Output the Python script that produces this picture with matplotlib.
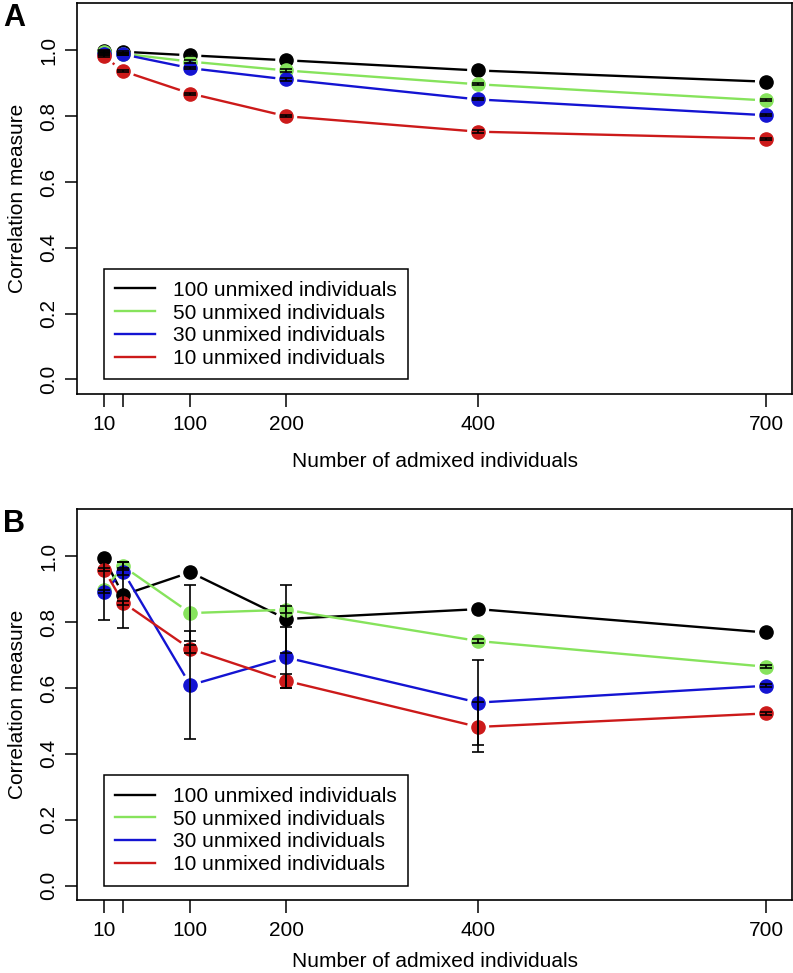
import numpy as np
import matplotlib
matplotlib.use("Agg")
import matplotlib.pyplot as plt

plt.rcParams['font.family'] = ['Liberation Sans', 'DejaVu Sans']

# x positions: number of admixed individuals
n_admixed = [10, 30, 100, 200, 400, 700]
x_ticks = [10, 30, 100, 200, 400, 700]
x_ticklabels = ['10', '', '100', '200', '400', '700']

series_labels = ['100 unmixed individuals', '50 unmixed individuals',
                 '30 unmixed individuals', '10 unmixed individuals']
series_colors = ['#000000', '#86E35C', '#1414D2', '#CC1A1A']

# Panel A
a_100 = [0.998, 0.996, 0.985, 0.970, 0.939, 0.905]
a_50 = [0.995, 0.990, 0.966, 0.939, 0.897, 0.848]
a_30 = [0.990, 0.988, 0.946, 0.912, 0.851, 0.803]
a_10 = [0.982, 0.937, 0.869, 0.800, 0.753, 0.732]
a_100_err = [0.003, 0.003, 0.003, 0.003, 0.003, 0.003]
a_50_err = [0.003, 0.003, 0.004, 0.004, 0.003, 0.003]
a_30_err = [0.003, 0.003, 0.003, 0.004, 0.003, 0.003]
a_10_err = [0.003, 0.003, 0.003, 0.003, 0.004, 0.003]

# Panel B
b_100 = [0.995, 0.883, 0.952, 0.810, 0.840, 0.769]
b_50 = [0.899, 0.970, 0.828, 0.838, 0.743, 0.665]
b_30 = [0.893, 0.954, 0.609, 0.693, 0.556, 0.607]
b_10 = [0.960, 0.860, 0.719, 0.622, 0.482, 0.523]
b_100_err = [0.004, 0.100, 0.004, 0.104, 0.004, 0.004]
b_50_err = [0.092, 0.012, 0.086, 0.010, 0.007, 0.004]
b_30_err = [0.004, 0.010, 0.164, 0.094, 0.130, 0.005]
b_10_err = [0.004, 0.006, 0.012, 0.022, 0.075, 0.004]

panel_a = [(a_100, a_100_err), (a_50, a_50_err), (a_30, a_30_err), (a_10, a_10_err)]
panel_b = [(b_100, b_100_err), (b_50, b_50_err), (b_30, b_30_err), (b_10, b_10_err)]

FS = 15


def broken_line(ax, x, y, color, gap=11):
    # R type="b": line segments stop short of the points
    pts = ax.transData.transform(np.column_stack([x, y]))
    inv = ax.transData.inverted()
    for i in range(len(pts) - 1):
        d = pts[i + 1] - pts[i]
        L = np.hypot(*d)
        if L <= 2 * gap:
            continue
        u = d / L
        seg = inv.transform(np.vstack([pts[i] + u * gap, pts[i + 1] - u * gap]))
        ax.plot(seg[:, 0], seg[:, 1], color=color, lw=1.7, solid_capstyle='butt', zorder=2)


def draw_panel(ax, data, letter, xlab_pad):
    ax.set_xlim(-17.6, 727.6)
    ax.set_ylim(-0.044, 1.144)
    for (vals, errs), col, lab in zip(data, series_colors, series_labels):
        broken_line(ax, n_admixed, vals, col)
        ax.plot(n_admixed, vals, 'o', color=col, ms=9.5, zorder=3)
        ax.errorbar(n_admixed, vals, yerr=errs, fmt='none', ecolor='black',
                    elinewidth=1.2, capsize=4.6, capthick=1.2, zorder=4)
        ax.plot([], [], color=col, lw=1.7, label=lab)
    ax.set_xticks(x_ticks)
    ax.set_xticklabels(x_ticklabels)
    ax.set_yticks([0.0, 0.2, 0.4, 0.6, 0.8, 1.0])
    ax.set_yticklabels(['0.0', '0.2', '0.4', '0.6', '0.8', '1.0'], rotation=90, va='center')
    ax.tick_params(axis='both', labelsize=FS, length=9, width=1.1, direction='out')
    ax.tick_params(axis='x', pad=6)
    ax.tick_params(axis='y', pad=5)
    for s in ax.spines.values():
        s.set_linewidth(1.2)
    ax.set_xlabel('Number of admixed individuals', fontsize=FS, labelpad=xlab_pad)
    ax.set_ylabel('Correlation measure', fontsize=FS, labelpad=9)
    leg = ax.legend(loc='lower left', bbox_to_anchor=(10, 0.0), bbox_transform=ax.transData,
                    borderaxespad=0, fancybox=False, edgecolor='black', framealpha=1,
                    fontsize=FS, handlelength=1.9, handletextpad=0.85, borderpad=0.55,
                    labelspacing=0.18)
    leg.get_frame().set_linewidth(1.1)
    ax.text(-0.104, 1.0, letter, transform=ax.transAxes, fontsize=22, fontweight='bold',
            ha='left', va='top')


fig = plt.figure(figsize=(7.93, 9.73), dpi=100)
ax_a = fig.add_axes([0.0977, 0.5951, 0.9016, 0.4018])
ax_b = fig.add_axes([0.0977, 0.0750, 0.9016, 0.4018])

draw_panel(ax_a, panel_a, 'A', 13)
draw_panel(ax_b, panel_b, 'B', 9)

fig.savefig('out.png', dpi=100)
